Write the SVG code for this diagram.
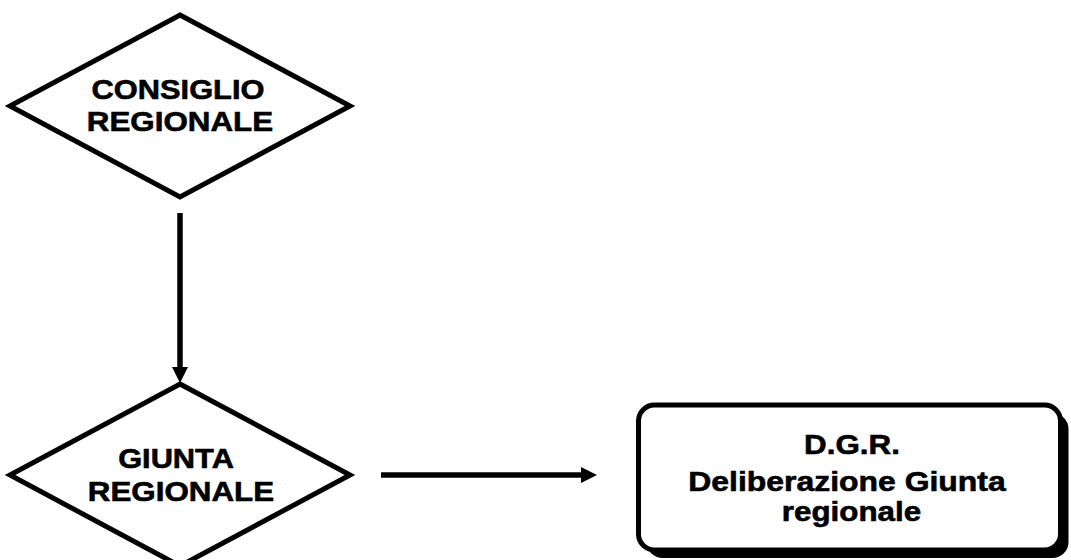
<svg xmlns="http://www.w3.org/2000/svg" width="1071" height="560" viewBox="0 0 1071 560">
  <style>
    .shape { fill: #ffffff; stroke: #000000; stroke-width: 5; stroke-linejoin: miter; }
    .label { font-family: "Liberation Sans", Arial, sans-serif; font-weight: bold; font-size: 28px; fill: #000000; stroke: #000000; stroke-width: 0.6; text-anchor: middle; }
    .edge { stroke: #000000; stroke-width: 5.5; fill: none; }
  </style>
  <defs>
    <marker id="arrow" markerUnits="userSpaceOnUse" viewBox="0 0 16 16" markerWidth="16" markerHeight="16" refX="0" refY="8" orient="auto">
      <path d="M0,0 L16,8 L0,16 Z" fill="#000000"/>
    </marker>
  </defs>

  <rect width="1071" height="560" fill="#ffffff"/>

  <g id="connectors">
    <line class="edge" x1="180" y1="213" x2="180" y2="367" marker-end="url(#arrow)"/>
    <line class="edge" x1="381" y1="475" x2="581" y2="475" marker-end="url(#arrow)"/>
  </g>

  <!-- labels use a slightly widened bold sans face -->
  <g id="consiglio-regionale">
    <polygon class="shape" points="180,15 350,106 180,197 10,106"/>
    <text class="label" transform="translate(178 0) scale(1.1 1)" x="0" y="99">CONSIGLIO</text>
    <text class="label" transform="translate(180 0) scale(1.12 1)" x="0" y="131.5">REGIONALE</text>
  </g>

  <g id="giunta-regionale">
    <polygon class="shape" points="180,384 350,475 180,566 10,475"/>
    <text class="label" transform="translate(176 0) scale(1.1 1)" x="0" y="468">GIUNTA</text>
    <text class="label" transform="translate(181 0) scale(1.12 1)" x="0" y="501">REGIONALE</text>
  </g>

  <g id="dgr">
    <rect x="646.5" y="413" width="422" height="145" rx="16" fill="#000000"/>
    <rect class="shape" x="638.5" y="405" width="422" height="145" rx="16"/>
    <text class="label" transform="translate(852 0) scale(1.12 1)" x="0" y="454">D.G.R.</text>
    <text class="label" transform="translate(847 0) scale(1.14 1)" x="0" y="491.5">Deliberazione Giunta</text>
    <text class="label" transform="translate(851.5 0) scale(1.12 1)" x="0" y="521.5">regionale</text>
  </g>
</svg>
